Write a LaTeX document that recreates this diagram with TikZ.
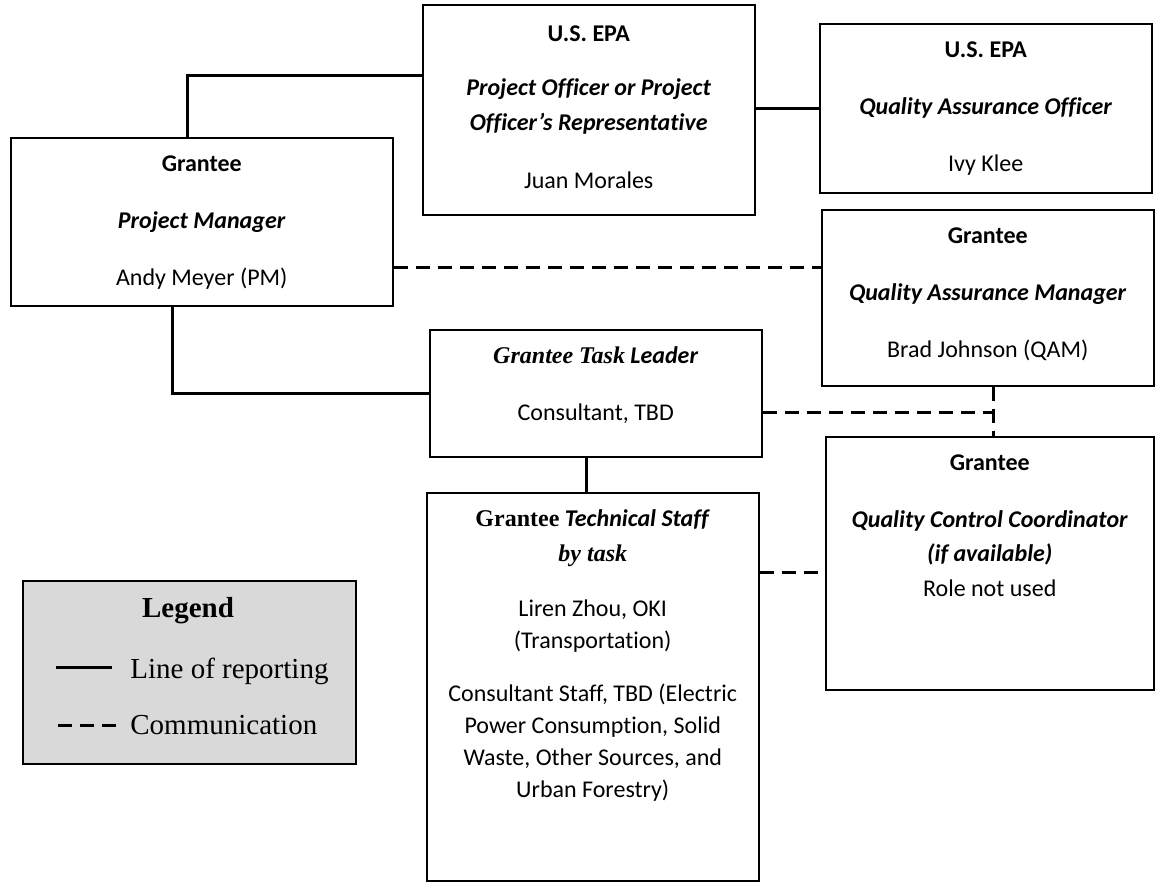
\documentclass[tikz,border=0pt]{standalone}
\usepackage{fontspec}
\setmainfont{Carlito}[Ligatures={NoCommon}]
\newfontfamily\timesfont{Liberation Serif}
\usepackage{xcolor}
\usetikzlibrary{positioning}
\definecolor{legendgray}{HTML}{D9D9D9}
% top aligned text inside a box of fixed size
\newcommand{\boxtext}[4][17pt]{\parbox[t][#3][t]{#2}{\centering\rule{0pt}{#1}#4}}

\begin{document}
\begin{tikzpicture}[x=0.5pt,y=-0.5pt,
    orgbox/.style={draw, line width=0.75pt, inner sep=0pt, anchor=north west,
      font=\fontsize{12}{16}\selectfont},
    report/.style={line width=1.5pt},
    comm/.style={line width=1.5pt, dash pattern=on 7pt off 4pt},
    legendbox/.style={draw, line width=0.75pt, fill=legendgray, anchor=north west,
      minimum width=166.5pt, minimum height=91.5pt, inner sep=0pt},
    legtext/.style={font=\timesfont\fontsize{14.5}{17}\selectfont, inner sep=0pt}]
  \useasboundingbox (0,0) rectangle (1160,890);

  % boxes
  \node[orgbox] (po) at (422,4) {\boxtext[18.5pt]{166pt}{105pt}{%
    \textbf{U.S. EPA}\\[11pt]
    \textbf{\textit{Project Officer or Project}}\\[1.5pt]
    \textbf{\textit{Officer’s Representative}}\\[13pt]
    Juan Morales}};
  \node[orgbox] (qao) at (819,23) {\boxtext{166pt}{84.5pt}{%
    \textbf{U.S. EPA}\\[12.5pt]
    \textbf{\textit{Quality Assurance Officer}}\\[12.5pt]
    Ivy Klee}};
  \node[orgbox] (pm) at (10,137) {\boxtext{191pt}{84pt}{%
    \textbf{Grantee}\\[12.5pt]
    \textbf{\textit{Project Manager}}\\[12.5pt]
    Andy Meyer (PM)}};
  \node[orgbox] (qam) at (821,209) {\boxtext{166pt}{88pt}{%
    \textbf{Grantee}\\[12.5pt]
    \textbf{\textit{Quality Assurance Manager}}\\[12.5pt]
    Brad Johnson (QAM)}};
  \node[orgbox] (tl) at (429,329) {\boxtext{166pt}{63.5pt}{%
    {\timesfont\textbf{\textit{Grantee Task}}} \textbf{\textit{Leader}}\\[12.5pt]
    Consultant, TBD}};
  \node[orgbox] (ts) at (426,492) {\boxtext{166pt}{194pt}{%
    {\timesfont\textbf{Grantee}} \textbf{\textit{Technical Staff}}\\[1.5pt]
    {\timesfont\textbf{\textit{by task}}}\\[11.5pt]
    Liren Zhou, OKI\\
    (Transportation)\\[10.5pt]
    Consultant Staff, TBD (Electric\\
    Power Consumption, Solid\\
    Waste, Other Sources, and\\
    Urban Forestry)}};
  \node[orgbox] (qc) at (825,436) {\boxtext{164pt}{126.5pt}{%
    \textbf{Grantee}\\[12.5pt]
    \textbf{\textit{Quality Control Coordinator}}\\[1pt]
    \textbf{\textit{(if available)}}\\[1.5pt]
    Role not used}};

  % connectors
  \coordinate (c1) at (187,75);
  \coordinate (c2) at (0,267);
  \coordinate (c3) at (172,394);
  \coordinate (c4) at (993,412);
  \coordinate (c5) at (586,0);
  \coordinate (c6) at (0,572);
  \draw[report] (pm.north -| c1) |- (po.west |- c1);
  \draw[report] (qao.west) -- (qao.west -| po.east);
  \draw[comm] (pm.east |- c2) -- (qam.west |- c2);
  \draw[report] (pm.south -| c3) |- (tl.west);
  \draw[comm] (tl.east |- c4) -- (c4);
  \draw[comm] (qam.south -| c4) -- (qc.north -| c4);
  \draw[report] (tl.south -| c5) -- (ts.north -| c5);
  \draw[comm] (ts.east |- c6) -- (qc.west |- c6);

  % legend
  \node[legendbox] (legend) at (22,580) {};
  \node[legtext, font=\timesfont\bfseries\fontsize{14.5}{17}\selectfont] (legtitle) at (188,611) {Legend};
  \coordinate (ls) at (56,667);
  \coordinate (le) at (112,667);
  \coordinate (ds) at (58,725);
  \coordinate (de) at (117,725);
  \draw[report] (ls) -- (le);
  \draw[comm] (ds) -- (de);
  \node[legtext, right=9pt of le, yshift=-2pt] (legrep) {Line of reporting};
  \node[legtext, right=6.5pt of de] (legcomm) {Communication};
\end{tikzpicture}
\end{document}
